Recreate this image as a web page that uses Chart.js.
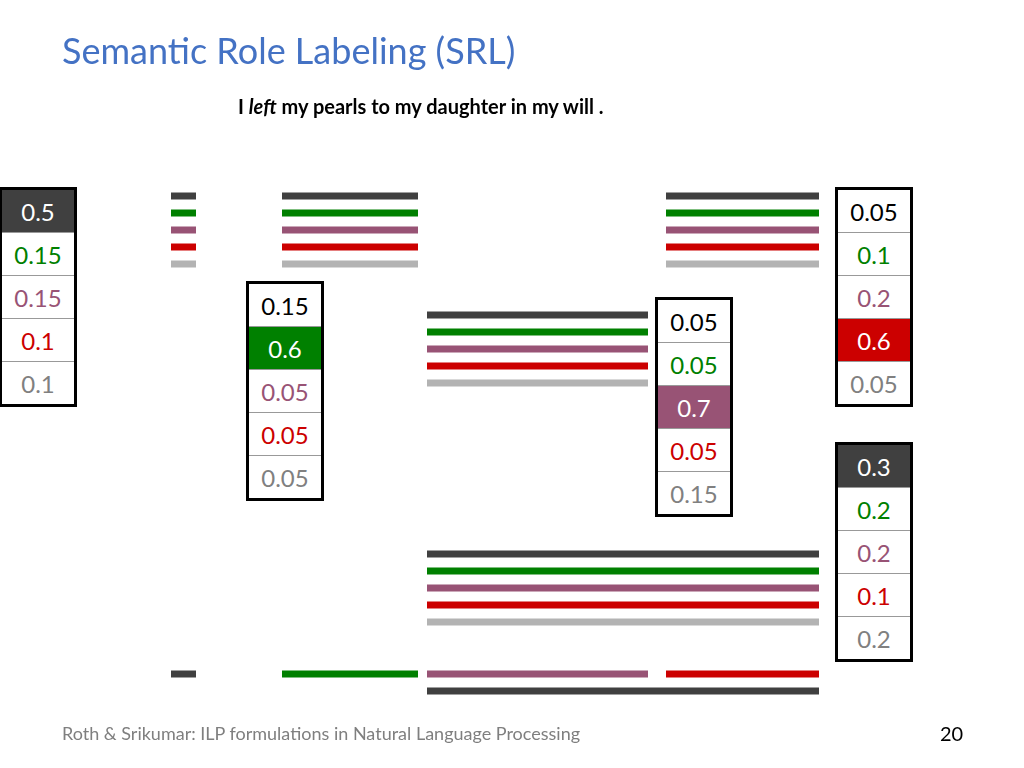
<!DOCTYPE html>
<html><head><meta charset="utf-8">
<script src="https://cdn.jsdelivr.net/npm/chart.js@4"></script>
<style>
html,body{margin:0;padding:0;background:#fff;width:1024px;height:768px;overflow:hidden;font-family:Lato,"Open Sans",sans-serif}
#c{position:absolute;left:0;top:0}
.t{position:absolute;white-space:nowrap}
table{position:absolute;border-collapse:collapse;border:3px solid #000;background:#fff}
td{width:72px;height:42px;padding:0;text-align:center;font-size:24px;border-top:1px solid #999;font-family:Lato,"Open Sans",sans-serif}
</style></head><body>
<canvas id="c" width="1024" height="768"></canvas>
<div class="t" style="left:62px;top:28px;font-size:36px;color:#4472C4">Semantic Role Labeling (SRL)</div>
<div class="t" style="left:238px;top:94px;font-size:20px;font-weight:bold;color:#000">I <i>left</i> my pearls to my daughter in my will .</div>
<div class="t" style="left:62px;top:722px;font-size:18px;color:#7f7f7f">Roth &amp; Srikumar: ILP formulations in Natural Language Processing</div>
<div class="t" style="left:940px;top:721px;font-size:20px;color:#000">20</div>
<div id="tables"></div>
<script>
// label colours: dark, green, purple, red, gray
const labelColors = ['#404040','#008000','#985375','#CC0000','#B3B3B3'];
// segment groups: [xStart, xEnd, yTop, labels shown]
const segX = [[171,196],[282,418],[666,819],[427,648],[427,819]];
const segY = [196,196,196,315,554];
const bottomSegs = [[171,196,674,0],[282,418,674,1],[427,648,674,2],[666,819,674,3],[427,819,691,0]];
// probability tables
const tableVals = [
  ['0.5','0.15','0.15','0.1','0.1'],
  ['0.15','0.6','0.05','0.05','0.05'],
  ['0.05','0.05','0.7','0.05','0.15'],
  ['0.05','0.1','0.2','0.6','0.05'],
  ['0.3','0.2','0.2','0.1','0.2']
];
const tableBest = [0,1,2,3,0];
const tablePos = [[-1,187],[246,281],[655,297],[835,187],[835,442]];
const textColors = ['#000','#008000','#985375','#CC0000','#808080'];

const datasets = [];
segX.forEach((s,g)=>{
  labelColors.forEach((col,k)=>{
    const y = segY[g] + k*17;
    datasets.push({data:[{x:s[0],y},{x:s[1],y}],borderColor:col,borderWidth:7,pointRadius:0,showLine:true,borderCapStyle:'butt'});
  });
});
bottomSegs.forEach(b=>{
  datasets.push({data:[{x:b[0],y:b[2]},{x:b[1],y:b[2]}],borderColor:labelColors[b[3]],borderWidth:7,pointRadius:0,showLine:true,borderCapStyle:'butt'});
});
new Chart(document.getElementById('c'),{
  type:'scatter',
  data:{datasets},
  options:{responsive:false,animation:false,layout:{padding:0},
    plugins:{legend:{display:false},tooltip:{enabled:false}},
    scales:{x:{type:'linear',min:0,max:1024,display:false},y:{type:'linear',min:0,max:768,reverse:true,display:false}}}
});
let html='';
tableVals.forEach((vals,i)=>{
  html+=`<table style="left:${tablePos[i][0]}px;top:${tablePos[i][1]}px">`;
  vals.forEach((v,k)=>{
    const best=k===tableBest[i];
    const bg=best?(k===0?'#404040':labelColors[k]):'#fff';
    const fg=best?'#fff':textColors[k];
    html+=`<tr><td style="background:${bg};color:${fg}${k===0?';border-top:none':''}">${v}</td></tr>`;
  });
  html+='</table>';
});
document.getElementById('tables').innerHTML=html;
</script>
</body></html>
